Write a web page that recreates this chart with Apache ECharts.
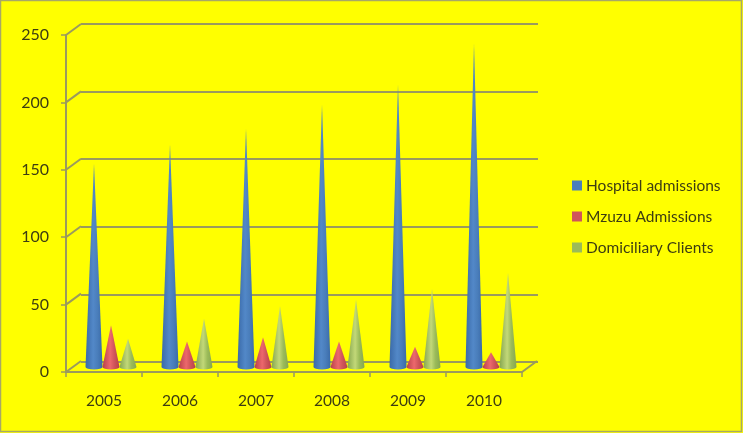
<!DOCTYPE html>
<html>
<head>
<meta charset="utf-8">
<style>html,body{margin:0;padding:0;background:#ffff00}#c{width:743px;height:433px}</style>
<script src="https://cdn.jsdelivr.net/npm/echarts@6/dist/echarts.min.js"></script>
</head>
<body>
<div id="c"></div>
<script>
const years = ['2005','2006','2007','2008','2009','2010'];
const hospitalAdmissions = [151,165,177,195,210,240];
const mzuzuAdmissions = [31,19,22,19,15,11];
const domiciliaryClients = [21,36,45,50,58,70];
const yTicks = [0,50,100,150,200,250];

const lineColor = '#9a9a5e';
const textColor = '#3d3d12';
const font = 'Lato';

function cone(dark, mid, light, slot) {
  return function (params, api) {
    const base = api.coord([api.value(0), 0]);
    const top = api.coord([api.value(0), api.value(1)]);
    const w = 17, h = 2.5;
    const x = base[0] + (slot - 1) * w;
    return {
      type: 'path',
      shape: {
        pathData: `M ${x - w / 2} ${base[1]} L ${x} ${top[1]} L ${x + w / 2} ${base[1]} A ${w / 2} ${h} 0 0 1 ${x - w / 2} ${base[1]} Z`
      },
      style: {
        fill: {
          type: 'linear', x: 0, y: 0, x2: 1, y2: 0,
          colorStops: [
            { offset: 0, color: dark },
            { offset: 0.45, color: light },
            { offset: 0.7, color: mid },
            { offset: 1, color: dark }
          ]
        }
      }
    };
  };
}

function coneSeries(name, values, color, dark, light, slot) {
  return {
    name, type: 'custom', coordinateSystem: 'cartesian2d',
    xAxisIndex: 2, yAxisIndex: 2,
    itemStyle: { color },
    encode: { x: 0, y: 1 },
    data: values.map((v, i) => [i, v]),
    renderItem: cone(dark, color, light, slot),
    z: 5
  };
}

const chart = echarts.init(document.getElementById('c'), null, { renderer: 'canvas' });
chart.setOption({
  animation: false,
  backgroundColor: '#ffff00',
  textStyle: { fontFamily: font },
  graphic: [{
    type: 'rect', silent: true, z: 100,
    shape: { x: 0.5, y: 0.5, width: 741, height: 431 },
    style: { fill: null, stroke: '#a8a866', lineWidth: 1.5 }
  }],
  legend: {
    orient: 'vertical', left: 572, top: 177, padding: 0, itemWidth: 10, itemHeight: 10, itemGap: 14,
    icon: 'rect',
    data: ['Hospital admissions', 'Mzuzu Admissions', 'Domiciliary Clients'],
    textStyle: { fontFamily: font, fontSize: 15.5, lineHeight: 17, color: textColor, padding: [0, 0, 0, -1] }
  },
  grid: [
    { left: 66, right: 221, top: 35, bottom: 61 },
    { left: 81, right: 205, top: 24, bottom: 71 },
    { left: 73, right: 214, top: 30, bottom: 66 }
  ],
  xAxis: [
    {
      gridIndex: 0, type: 'category', data: years,
      axisLine: { lineStyle: { color: lineColor, width: 2 } },
      axisTick: { show: true, alignWithLabel: false, length: 5, lineStyle: { color: lineColor, width: 1.5 } },
      axisLabel: { margin: 21, fontFamily: font, fontSize: 15.5, color: textColor }
    },
    { gridIndex: 1, type: 'category', data: years, show: false },
    { gridIndex: 2, type: 'category', data: years, show: false }
  ],
  yAxis: [
    {
      gridIndex: 0, type: 'value', min: 0, max: 250, interval: 50,
      axisLine: { show: true, lineStyle: { color: lineColor, width: 2 } },
      axisTick: { show: true, length: 5, lineStyle: { color: lineColor, width: 1.5 } },
      splitLine: { show: false },
      axisLabel: { margin: 17, fontFamily: font, fontSize: 16, color: textColor }
    },
    {
      gridIndex: 1, type: 'value', min: 0, max: 250, interval: 50,
      axisLine: { show: false }, axisTick: { show: false }, axisLabel: { show: false },
      splitLine: { show: true, lineStyle: { color: lineColor, width: 2 } }
    },
    { gridIndex: 2, type: 'value', min: 0, max: 250, interval: 50, show: false, splitLine: { show: false } }
  ],
  series: [
    {
      name: 'connectors', type: 'custom', xAxisIndex: 0, yAxisIndex: 0, silent: true, z: 2,
      data: yTicks.map(v => [0, v]),
      encode: { x: 0, y: 1 },
      renderItem(params, api) {
        const p = api.coord([0, api.value(1)]);
        const x0 = params.coordSys.x;
        const lines = [{
          type: 'line',
          shape: { x1: x0, y1: p[1], x2: x0 + 15, y2: p[1] - 11 },
          style: { stroke: lineColor, lineWidth: 2 }
        }];
        if (api.value(1) === 0) {
          const x1 = x0 + params.coordSys.width;
          lines.push({
            type: 'line',
            shape: { x1, y1: p[1], x2: x1 + 15, y2: p[1] - 11 },
            style: { stroke: lineColor, lineWidth: 2 }
          });
        }
        return { type: 'group', children: lines };
      }
    },
    coneSeries('Hospital admissions', hospitalAdmissions, '#4a7ebb', '#3a6aa8', '#5288c8', 0),
    coneSeries('Mzuzu Admissions', mzuzuAdmissions, '#d0555a', '#b8404a', '#ec686c', 1),
    coneSeries('Domiciliary Clients', domiciliaryClients, '#9bbb59', '#86a650', '#c2d878', 2)
  ]
});
</script>
</body>
</html>
